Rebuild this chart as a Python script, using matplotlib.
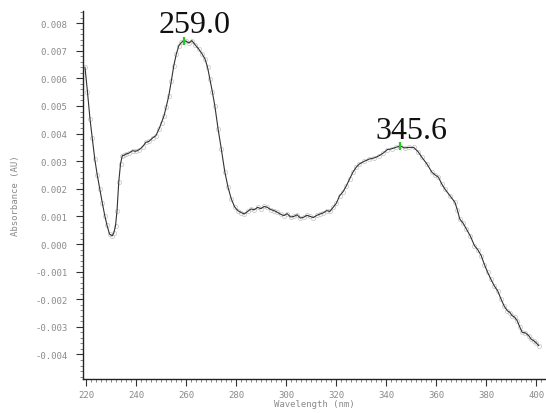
import matplotlib
matplotlib.use("Agg")
import matplotlib.pyplot as plt
from matplotlib.ticker import AutoMinorLocator, FormatStrFormatter

# UV absorbance spectrum (wavelength in nm, absorbance in AU)
wavelength = [
    219.5, 220.5, 221.5, 222.4, 223.4, 224.4, 225.4, 226.4, 227.4, 228.3,
    229.3, 230.4, 231.0, 231.7, 232.3, 233.0, 233.7, 234.4, 235.2, 235.9,
    237.2, 238.5, 239.8, 241.2, 242.5, 243.8, 245.1, 246.5, 247.8, 249.1,
    250.1, 251.1, 252.0, 253.0, 254.0, 255.0, 256.0, 257.0, 258.0, 259.0,
    260.0, 261.1, 262.2, 263.5, 264.9, 266.2, 267.5, 268.5, 269.4, 270.4,
    271.4, 272.7, 274.0, 275.4, 276.7, 278.0, 279.3, 280.6, 281.9, 283.2,
    284.5, 285.9, 287.2, 288.5, 289.8, 291.1, 292.4, 293.7, 295.1, 296.4,
    297.7, 299.0, 300.3, 301.7, 303.0, 304.3, 305.6, 306.9, 308.2, 309.5,
    310.8, 312.2, 313.5, 314.8, 316.1, 317.4, 318.7, 320.0, 321.3, 322.7,
    324.0, 325.3, 326.6, 327.9, 329.2, 331.2, 333.2, 335.2, 337.1, 338.8,
    340.4, 342.1, 343.7, 345.6, 347.3, 348.9, 350.9, 352.6, 354.2, 356.2,
    358.2, 359.5, 360.8, 362.1, 363.4, 365.4, 367.4, 368.4, 369.3, 370.7,
    372.0, 373.6, 375.2, 376.5, 377.9, 379.2, 380.5, 381.8, 383.1, 384.5,
    385.8, 387.1, 388.4, 389.4, 390.3, 391.3, 392.3, 393.3, 394.3, 395.6,
    396.9, 397.9, 398.9, 399.9, 400.9,
]
absorbance = [
    0.00640, 0.00550, 0.00453, 0.00385, 0.00308, 0.00250, 0.00199, 0.00150, 0.00103, 0.00068,
    0.00036, 0.00030, 0.00040, 0.00066, 0.00120, 0.00225, 0.00290, 0.00320, 0.00322, 0.00326,
    0.00330, 0.00338, 0.00336, 0.00342, 0.00352, 0.00368, 0.00372, 0.00384, 0.00392, 0.00417,
    0.00440, 0.00465, 0.00498, 0.00537, 0.00590, 0.00646, 0.00688, 0.00718, 0.00730, 0.00737,
    0.00734, 0.00728, 0.00737, 0.00722, 0.00707, 0.00690, 0.00670, 0.00640, 0.00598, 0.00552,
    0.00501, 0.00417, 0.00344, 0.00261, 0.00205, 0.00163, 0.00135, 0.00121, 0.00114, 0.00109,
    0.00118, 0.00127, 0.00124, 0.00133, 0.00128, 0.00136, 0.00133, 0.00125, 0.00121, 0.00115,
    0.00108, 0.00103, 0.00110, 0.00098, 0.00100, 0.00106, 0.00094, 0.00097, 0.00104, 0.00100,
    0.00096, 0.00104, 0.00109, 0.00113, 0.00121, 0.00118, 0.00133, 0.00148, 0.00175, 0.00190,
    0.00211, 0.00236, 0.00260, 0.00278, 0.00290, 0.00300, 0.00308, 0.00312, 0.00320, 0.00330,
    0.00342, 0.00345, 0.00350, 0.00355, 0.00348, 0.00350, 0.00350, 0.00335, 0.00314, 0.00290,
    0.00260, 0.00250, 0.00242, 0.00218, 0.00199, 0.00175, 0.00151, 0.00122, 0.00091, 0.00075,
    0.00054, 0.00028, -0.00006, -0.00020, -0.00042, -0.00075, -0.00103, -0.00128, -0.00151, -0.00170,
    -0.00199, -0.00225, -0.00242, -0.00248, -0.00260, -0.00265, -0.00278, -0.00300, -0.00320, -0.00322,
    -0.00332, -0.00345, -0.00350, -0.00358, -0.00368,
]

peak_wavelengths = [259.0, 345.6]
peak_absorbance = [0.00737, 0.00355]
peak_labels = ["259.0", "345.6"]

x_ticks = [220, 240, 260, 280, 300, 320, 340, 360, 380, 400]
y_ticks = [-0.004, -0.003, -0.002, -0.001, 0.000, 0.001, 0.002, 0.003, 0.004,
           0.005, 0.006, 0.007, 0.008]

grey = "#8a8a8a"
mono = "DejaVu Sans Mono"

fig = plt.figure(figsize=(5.46, 4.14), dpi=100)
ax = fig.add_axes([0.152, 0.082, 0.848, 0.889])

# raw sample points, faint, then the connecting trace
ax.plot(wavelength, absorbance, linestyle="none", marker="o", markersize=3,
        markerfacecolor="none", markeredgecolor="#cccccc", markeredgewidth=0.6)
ax.plot(wavelength, absorbance, color="#333333", linewidth=0.8)

# peak markers and labels
ax.plot(peak_wavelengths, peak_absorbance, linestyle="none", marker="|",
        markersize=6, markeredgewidth=1.6, color="#22cc22")
for wl, a, lab in zip(peak_wavelengths, peak_absorbance, peak_labels):
    ax.annotate(lab, (wl, a), xytext=(8, 1), textcoords="offset points",
                ha="center", va="bottom", fontsize=23,
                family="Liberation Serif", color="#111111")

ax.set_xlim(218.7, 403.8)
ax.set_ylim(-0.00489, 0.00844)

ax.set_xticks(x_ticks)
ax.set_yticks(y_ticks)
ax.yaxis.set_major_formatter(FormatStrFormatter("%.3f"))
ax.xaxis.set_minor_locator(AutoMinorLocator(10))
ax.yaxis.set_minor_locator(AutoMinorLocator(5))

for lab in ax.get_xticklabels() + ax.get_yticklabels():
    lab.set_fontfamily(mono)
    lab.set_fontsize(6.5)
    lab.set_color(grey)

ax.tick_params(which="major", direction="out", length=5, width=0.8,
               color="#333333")
ax.tick_params(axis="y", which="major", pad=6)
ax.tick_params(axis="x", which="major", pad=3)
ax.tick_params(which="minor", direction="out", length=2.5, width=0.5,
               color="#555555")

for side in ("top", "right"):
    ax.spines[side].set_visible(False)
for side in ("left", "bottom"):
    ax.spines[side].set_color("#222222")
    ax.spines[side].set_linewidth(1.0)

ax.set_xlabel("Wavelength (nm)", fontfamily=mono, fontsize=6.5,
              color=grey, labelpad=0)
ax.set_ylabel("Absorbance (AU)", fontfamily=mono, fontsize=6.5,
              color=grey, labelpad=11)

fig.savefig("out.png", dpi=100)
